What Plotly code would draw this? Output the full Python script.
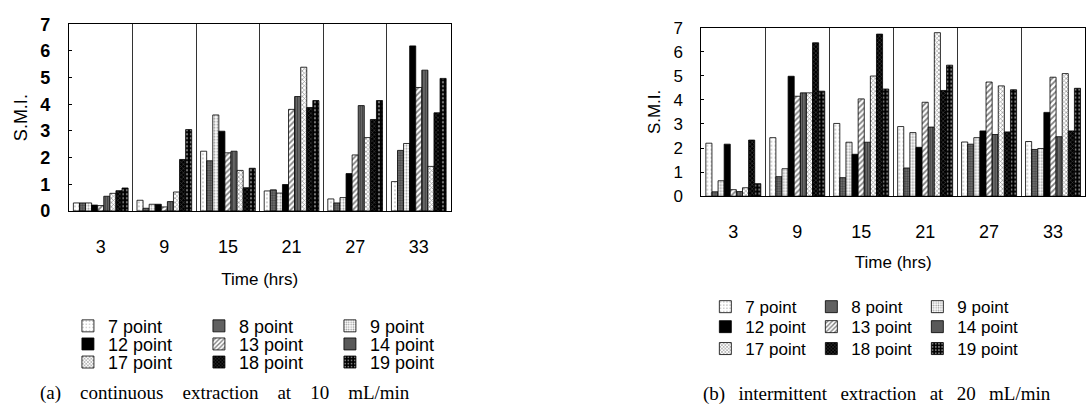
import plotly.graph_objects as go

W, H = 1086, 419

times = ["3", "9", "15", "21", "27", "33"]
series_names = ["7 point", "8 point", "9 point", "12 point", "13 point",
                "14 point", "17 point", "18 point", "19 point"]

# (a) continuous extraction at 10 mL/min  -- one list per series, values per time
a_7 = [0.30, 0.40, 2.24, 0.75, 0.45, 1.10]
a_8 = [0.30, 0.10, 1.88, 0.79, 0.30, 2.27]
a_9 = [0.30, 0.25, 3.60, 0.67, 0.50, 2.53]
a_12 = [0.22, 0.25, 2.99, 0.99, 1.40, 6.19]
a_13 = [0.20, 0.15, 2.18, 3.81, 2.10, 4.63]
a_14 = [0.55, 0.35, 2.24, 4.29, 3.95, 5.28]
a_17 = [0.66, 0.71, 1.52, 5.39, 2.75, 1.67]
a_18 = [0.76, 1.93, 0.87, 3.88, 3.43, 3.68]
a_19 = [0.86, 3.05, 1.60, 4.14, 4.14, 4.97]

# (b) intermittent extraction at 20 mL/min
b_7 = [2.20, 2.43, 3.02, 2.89, 2.25, 2.27]
b_8 = [0.18, 0.81, 0.77, 1.17, 2.16, 1.94]
b_9 = [0.64, 1.14, 2.24, 2.64, 2.43, 1.98]
b_12 = [2.16, 4.98, 1.74, 2.03, 2.71, 3.48]
b_13 = [0.27, 4.15, 4.04, 3.90, 4.74, 4.94]
b_14 = [0.19, 4.29, 2.24, 2.87, 2.56, 2.47]
b_17 = [0.35, 4.29, 4.99, 6.79, 4.58, 5.09]
b_18 = [2.33, 6.37, 6.73, 4.39, 2.67, 2.71]
b_19 = [0.52, 4.36, 4.45, 5.44, 4.42, 4.48]

a_values = [a_7, a_8, a_9, a_12, a_13, a_14, a_17, a_18, a_19]
b_values = [b_7, b_8, b_9, b_12, b_13, b_14, b_17, b_18, b_19]

patterns = [
    dict(shape=".", fgcolor="#555", bgcolor="white", size=4, solidity=0.15),
    dict(shape=".", fgcolor="#111", bgcolor="#777", size=2.5, solidity=0.5),
    dict(shape=".", fgcolor="#333", bgcolor="white", size=3, solidity=0.35),
    dict(shape="", fgcolor="black", bgcolor="black"),
    dict(shape="/", fgcolor="black", bgcolor="white", size=4, solidity=0.45),
    dict(shape="|", fgcolor="black", bgcolor="#777", size=2.5, solidity=0.5),
    dict(shape="x", fgcolor="#222", bgcolor="white", size=3, solidity=0.4),
    dict(shape="x", fgcolor="#999", bgcolor="black", size=3, solidity=0.3),
    dict(shape=".", fgcolor="white", bgcolor="black", size=4, solidity=0.25),
]
fills = ["white", "#777", "white", "black", "white", "#777", "white", "black", "black"]

FONT = "Liberation Sans, Arial, sans-serif"
SERIF = "Liberation Serif, Times New Roman, serif"

fig = go.Figure()

for i, name in enumerate(series_names):
    row = i // 3
    fig.add_trace(go.Bar(
        x=times, y=a_values[i], name=name,
        marker=dict(color=fills[i], line=dict(color="black", width=0.8),
                    pattern=patterns[i]),
        xaxis="x", yaxis="y",
        legend="legend" if row == 0 else f"legend{row + 1}",
    ))
for i, name in enumerate(series_names):
    row = i // 3
    fig.add_trace(go.Bar(
        x=times, y=b_values[i], name=name,
        marker=dict(color=fills[i], line=dict(color="black", width=0.8),
                    pattern=patterns[i]),
        xaxis="x2", yaxis="y2",
        legend=f"legend{row + 4}",
    ))


def px_x(p):
    return p / W


def px_y(p):
    return 1 - p / H


xcommon = dict(type="category", categoryorder="array", categoryarray=times,
               showline=True, linecolor="black", linewidth=1, mirror=True,
               showgrid=True, gridcolor="#333", gridwidth=1, tickson="boundaries",
               ticks="", ticklabelstandoff=19, zeroline=False,
               tickfont=dict(family=FONT, size=18, color="black"))
ycommon = dict(range=[0, 7], dtick=1, showline=True, linecolor="black", linewidth=1,
               mirror=True, showgrid=False, zeroline=False, ticks="inside", ticklen=3,
               tickcolor="black")

legend_common = dict(orientation="h", xanchor="left", yanchor="middle",
                     bgcolor="rgba(0,0,0,0)", itemclick=False, itemdoubleclick=False,
                     entrywidthmode="pixels", tracegroupgap=0)

left_rows = [332, 351, 370]
right_rows = [312, 333, 356]
layout_legends = {}
for r in range(3):
    key = "legend" if r == 0 else f"legend{r + 1}"
    layout_legends[key] = dict(legend_common, x=px_x(68), y=px_y(left_rows[r]),
                               entrywidth=86, font=dict(family=FONT, size=18, color="black"))
    layout_legends[f"legend{r + 4}"] = dict(legend_common, x=px_x(706), y=px_y(right_rows[r]),
                                            entrywidth=61, font=dict(family=FONT, size=17, color="black"))

fig.update_layout(
    width=W, height=H, autosize=False,
    margin=dict(l=0, r=0, t=0, b=0),
    paper_bgcolor="white", plot_bgcolor="white",
    barmode="group",
    font=dict(family=FONT, color="black"),
    xaxis=dict(xcommon, domain=[px_x(69), px_x(451)], anchor="y",
               title=dict(text="Time (hrs)", standoff=17,
                          font=dict(family=FONT, size=17, color="black"))),
    yaxis=dict(ycommon, domain=[px_y(211), px_y(15)], anchor="x",
               ticklabelstandoff=14,
               tickfont=dict(family=FONT, size=18, color="black", weight="bold"),
               title=dict(text="S.M.I.", standoff=8,
                          font=dict(family=FONT, size=18, color="black"))),
    xaxis2=dict(xcommon, domain=[px_x(702), 1.0], anchor="y2",
                title=dict(text="Time (hrs)", standoff=15,
                           font=dict(family=FONT, size=17, color="black"))),
    yaxis2=dict(ycommon, domain=[px_y(195.5), px_y(18.5)], anchor="x2",
                ticklabelstandoff=14,
                tickfont=dict(family=FONT, size=17, color="black"),
                title=dict(text="S.M.I.", standoff=8,
                           font=dict(family=FONT, size=17, color="black"))),
    **layout_legends,
)
fig.update_layout(bargap=0.14, bargroupgap=0)

GAP_A = "\u00a0\u00a0\u00a0 "
GAP_B = "\u00a0\u2009 "
fig.add_annotation(text=GAP_A.join(["(a)", "continuous", "extraction", "at", "10", "mL/min"]),
                   xref="paper", yref="paper", x=px_x(225), y=px_y(402),
                   xanchor="center", yanchor="middle", showarrow=False,
                   font=dict(family=SERIF, size=19, color="black"))
fig.add_annotation(text=GAP_B.join(["(b)", "intermittent", "extraction", "at", "20", "mL/min"]),
                   xref="paper", yref="paper", x=px_x(878), y=px_y(403),
                   xanchor="center", yanchor="middle", showarrow=False,
                   font=dict(family=SERIF, size=19, color="black"))

fig.write_html("out.html")
